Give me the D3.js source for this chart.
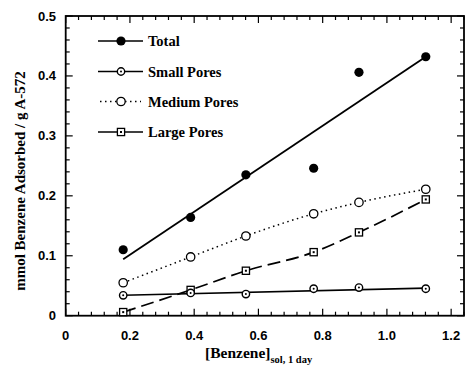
<!DOCTYPE html>
<html>
<head>
<meta charset="utf-8">
<script src="https://cdn.jsdelivr.net/npm/d3@7"></script>
<style>
  body { margin: 0; background: #fff; }
  svg { display: block; }
</style>
</head>
<body>
<svg id="chart" width="467" height="381"></svg>
<script>
// benzene concentration, sol, 1 day
const benzene = [0.179, 0.389, 0.561, 0.772, 0.913, 1.121];
const total = [0.110, 0.164, 0.235, 0.246, 0.406, 0.432];
const smallPores = [0.034, 0.038, 0.036, 0.045, 0.047, 0.045];
const mediumPores = [0.055, 0.098, 0.133, 0.170, 0.189, 0.211];
const largePores = [0.006, 0.043, 0.075, 0.106, 0.139, 0.194];
// fitted lines as drawn in the figure (end points)
const totalFit = [[0.179, 0.094], [1.121, 0.432]];
const smallFit = [[0.179, 0.034], [1.121, 0.046]];
const xTicks = [0, 0.2, 0.4, 0.6, 0.8, 1.0, 1.2];
const yTicks = [0, 0.1, 0.2, 0.3, 0.4, 0.5];
const legendNames = ["Total", "Small Pores", "Medium Pores", "Large Pores"];

const svg = d3.select("#chart");
const plotLeft = 65.7, plotRight = 464, plotTop = 16, plotBottom = 315.7;

const x = d3.scaleLinear().domain([0, 1.24]).range([plotLeft, plotRight]);
const y = d3.scaleLinear().domain([0, 0.5]).range([plotBottom, plotTop]);

// frame
svg.append("rect")
  .attr("x", plotLeft).attr("y", plotTop)
  .attr("width", plotRight - plotLeft).attr("height", plotBottom - plotTop)
  .attr("fill", "none").attr("stroke", "#000").attr("stroke-width", 1.8);

// inward ticks on all four sides
const xMinor = d3.range(0, 1.2401, 0.04);
const yMinor = d3.range(0, 0.5001, 0.02);
function isMajor(v, step) { return Math.abs(v / step - Math.round(v / step)) < 1e-6; }

const tickG = svg.append("g").attr("stroke", "#000").attr("stroke-width", 1.2);
xMinor.forEach(v => {
  const len = isMajor(v, 0.2) ? 7 : 4;
  tickG.append("line").attr("x1", x(v)).attr("x2", x(v)).attr("y1", plotBottom).attr("y2", plotBottom - len);
  tickG.append("line").attr("x1", x(v)).attr("x2", x(v)).attr("y1", plotTop).attr("y2", plotTop + len);
});
yMinor.forEach(v => {
  const len = isMajor(v, 0.1) ? 7 : 4;
  tickG.append("line").attr("y1", y(v)).attr("y2", y(v)).attr("x1", plotLeft).attr("x2", plotLeft + len);
  tickG.append("line").attr("y1", y(v)).attr("y2", y(v)).attr("x1", plotRight).attr("x2", plotRight - len);
});

// tick labels
const fmt = v => v === 0 ? "0" : d3.format(".1f")(v);
svg.append("g").selectAll("text").data(xTicks).enter().append("text")
  .attr("x", d => x(d)).attr("y", 339.5)
  .attr("text-anchor", "middle")
  .style("font-family", "Liberation Sans, Arial, sans-serif")
  .style("font-size", "13px").style("font-weight", "bold")
  .text(fmt);
svg.append("g").selectAll("text").data(yTicks).enter().append("text")
  .attr("x", 56).attr("y", d => y(d) + 4.5)
  .attr("text-anchor", "end")
  .style("font-family", "Liberation Sans, Arial, sans-serif")
  .style("font-size", "13px").style("font-weight", "bold")
  .text(fmt);

// axis titles
const serif = "Liberation Serif, Times New Roman, serif";
const xt = svg.append("text")
  .attr("x", 205).attr("y", 358)
  .style("font-family", serif).style("font-size", "15.5px").style("font-weight", "bold");
xt.append("tspan").text("[Benzene]");
xt.append("tspan").attr("dy", 5).style("font-size", "10.5px").text("sol, 1 day");

svg.append("text")
  .attr("transform", "translate(25," + 181 + ") rotate(-90)")
  .attr("text-anchor", "middle")
  .style("font-family", serif).style("font-size", "15px").style("font-weight", "bold")
  .text("mmol Benzene Adsorbed / g A-572");

// lines
const line = d3.line().x(d => x(d[0])).y(d => y(d[1]));
const curve = d3.line().x(d => x(d[0])).y(d => y(d[1])).curve(d3.curveMonotoneX);

svg.append("path").attr("d", line(totalFit))
  .attr("fill", "none").attr("stroke", "#000").attr("stroke-width", 1.8);
svg.append("path").attr("d", line(smallFit))
  .attr("fill", "none").attr("stroke", "#000").attr("stroke-width", 1.6);
svg.append("path").attr("d", curve(benzene.map((b, i) => [b, mediumPores[i]])))
  .attr("fill", "none").attr("stroke", "#000").attr("stroke-width", 1.5)
  .attr("stroke-dasharray", "1.5,3.5");
svg.append("path").attr("d", curve(benzene.map((b, i) => [b, largePores[i]])))
  .attr("fill", "none").attr("stroke", "#000").attr("stroke-width", 1.7)
  .attr("stroke-dasharray", "13,6");

// markers
function drawMarker(g, kind, cx, cy) {
  if (kind === 0) {
    g.append("circle").attr("cx", cx).attr("cy", cy).attr("r", 4.6).attr("fill", "#000");
  } else if (kind === 1) {
    g.append("circle").attr("cx", cx).attr("cy", cy).attr("r", 3.7)
      .attr("fill", "#fff").attr("stroke", "#000").attr("stroke-width", 1.4);
    g.append("circle").attr("cx", cx).attr("cy", cy).attr("r", 1).attr("fill", "#000");
  } else if (kind === 2) {
    g.append("circle").attr("cx", cx).attr("cy", cy).attr("r", 4.2)
      .attr("fill", "#fff").attr("stroke", "#000").attr("stroke-width", 1.3);
  } else {
    g.append("rect").attr("x", cx - 3.6).attr("y", cy - 3.6).attr("width", 7.2).attr("height", 7.2)
      .attr("fill", "#fff").attr("stroke", "#000").attr("stroke-width", 1.3);
    g.append("rect").attr("x", cx - 1).attr("y", cy - 1).attr("width", 2).attr("height", 2).attr("fill", "#000");
  }
}

const series = [total, smallPores, mediumPores, largePores];
const markG = svg.append("g");
[3, 2, 1, 0].forEach(k => {
  series[k].forEach((v, i) => drawMarker(markG, k, x(benzene[i]), y(v)));
});

// legend
const legendY = [41, 71.5, 101.5, 132];
const lg = svg.append("g");
legendNames.forEach((name, k) => {
  const ly = legendY[k];
  const ln = lg.append("line").attr("x1", 98).attr("x2", 143).attr("y1", ly).attr("y2", ly)
    .attr("stroke", "#000").attr("stroke-width", 1.7);
  if (k === 2) ln.attr("x1", 100).attr("x2", 141).attr("stroke-width", 1.3).attr("stroke-dasharray", "1.5,3.5");
  drawMarker(lg, k, 121, ly);
  lg.append("text").attr("x", 148).attr("y", ly + 5)
    .style("font-family", serif).style("font-size", "14.5px").style("font-weight", "bold")
    .text(name);
});
</script>
</body>
</html>
